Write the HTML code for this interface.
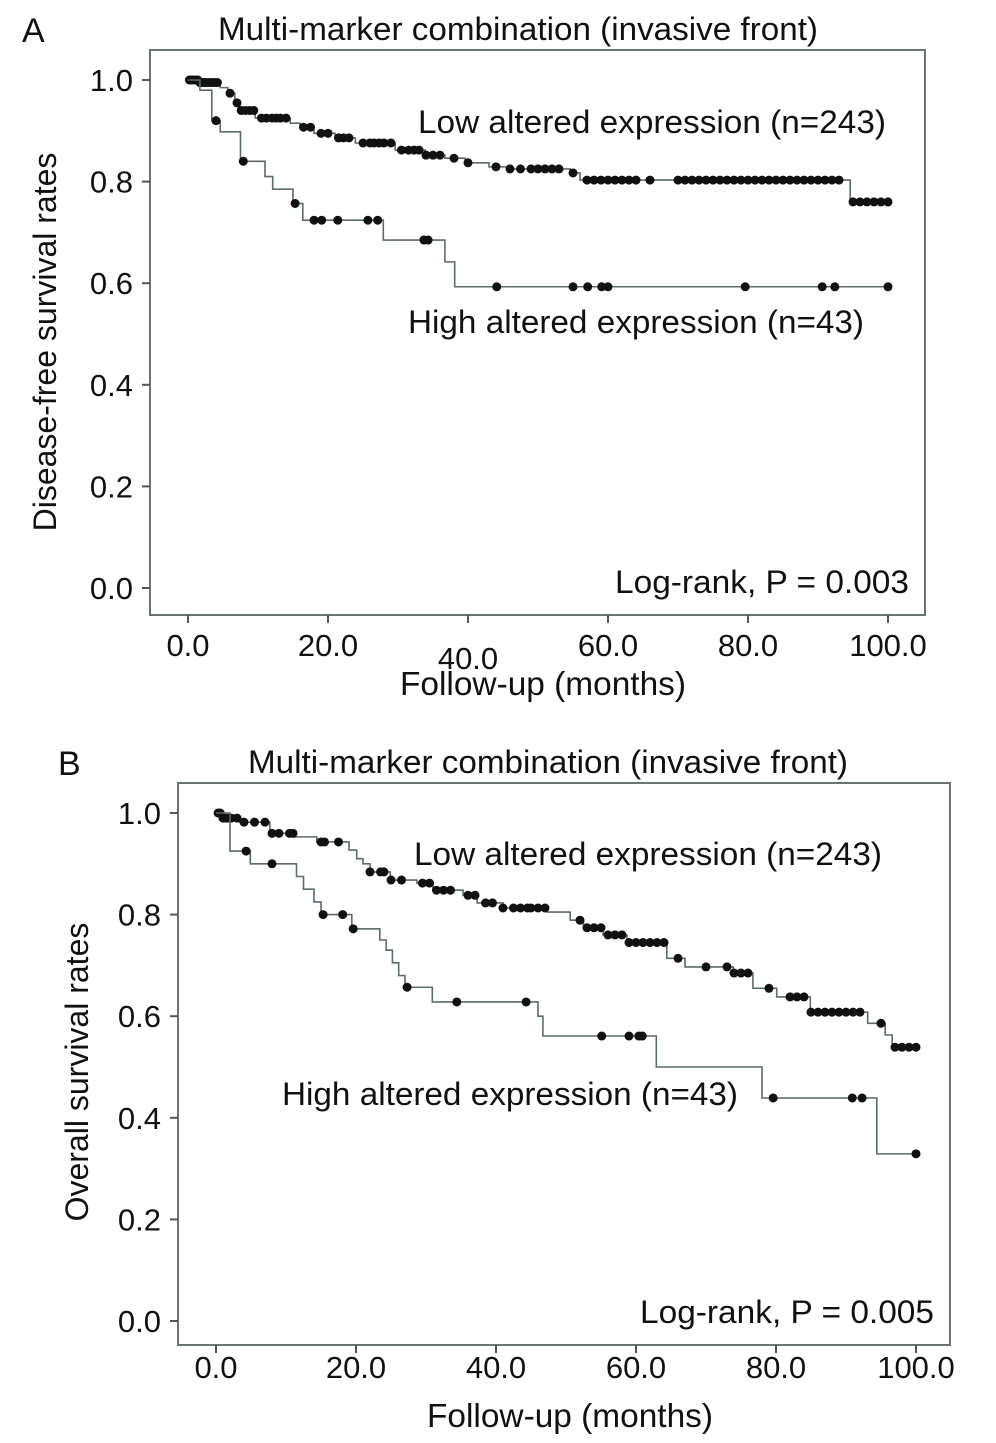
<!DOCTYPE html>
<html><head><meta charset="utf-8"><style>
body{margin:0;background:#fff;}
svg{display:block;font-family:"Liberation Sans",Arial,sans-serif;}
</style></head><body>
<svg id="chart" width="996" height="1443" viewBox="0 0 996 1443" xmlns="http://www.w3.org/2000/svg"></svg>
<script>
// Panel A - disease-free survival
const aLowSteps = [[0,1.0],[1.5,0.995],[4.6,0.985],[5.7,0.974],[6.7,0.955],[7.4,0.94],[9.6,0.925],[14.6,0.915],[16,0.907],[18,0.895],[21,0.886],[23.9,0.876],[29.6,0.862],[33.9,0.852],[36.7,0.846],[39.6,0.837],[43,0.829],[46,0.825],[54.6,0.817],[56,0.803],[94.6,0.76]];
const aLowCensor = [0.2,0.5,0.8,1.1,1.4,1.7,2,2.3,2.6,3,3.4,3.8,4.2,6,7,7.6,8.2,8.8,9.4,10.5,11.2,12,12.6,13.2,14,16.5,17.5,19,20,21.5,22.2,23,25,26,26.6,27.3,28,29,30.5,31.5,32.3,33,34,35,36,38,40,44,46,47.5,49,50,51,52,53,55,57,58,59,60,61,62,63,64,66,70,71,72,73,74,75,76,77,78,79,80,81,82,83,84,85,86,87,88,89,90,91,92,93,95,96,97,98,99,100];
const aHighSteps = [[0,1.0],[1.7,0.98],[3.4,0.92],[4.6,0.898],[7.5,0.84],[11,0.81],[12.1,0.785],[15,0.757],[16.4,0.724],[27.9,0.685],[36.7,0.642],[38.1,0.593]];
const aHighCensor = [4,7.9,15.3,18,19.1,21.4,25.7,27.1,33.7,34.3,44.1,55,57.1,59.1,60,79.6,90.6,92.4,100];
// Panel B - overall survival
const bLowSteps = [[0,1.0],[1,0.99],[3.4,0.982],[7.7,0.96],[11.3,0.953],[14.4,0.943],[19,0.927],[20.1,0.91],[21,0.9],[22,0.884],[24.9,0.868],[28.7,0.862],[31,0.848],[35.3,0.838],[37.3,0.823],[41,0.813],[47.3,0.805],[50.6,0.789],[52.5,0.774],[55.3,0.76],[58.7,0.745],[64.4,0.714],[67,0.697],[73.9,0.685],[76.7,0.655],[80.1,0.638],[84.9,0.608],[93.1,0.586],[95.6,0.563],[96.6,0.539]];
const bLowCensor = [0.3,0.6,1,1.3,1.7,2.2,3,4,5.5,7,8,9,10.5,11,15,15.5,17.5,22,23.5,24,25,26.5,29.5,30.5,31.5,32.5,33.5,36,37,38.5,39.5,41,42.5,43.5,44.5,45,46,47,52,53,54,55,56,57,58,59,60,61,62,63,64,66,70,73,74,75,76,79,82,83,84,85,86,87,88,89,90,91,92,95,97,98,99,100];
const bHighSteps = [[0,1.0],[2,0.925],[4.9,0.9],[11.5,0.875],[12.5,0.85],[14,0.825],[15,0.8],[19.4,0.772],[23.4,0.75],[24.3,0.73],[25.2,0.705],[26.1,0.68],[27,0.657],[30.9,0.628],[46,0.6],[46.7,0.561],[62.9,0.5],[78,0.439],[94.4,0.329]];
const bHighCensor = [4.3,8,15.3,18.1,19.6,27.3,34.4,44.3,55.1,59,60.4,60.9,79.6,90.9,92.3,100];
const yTicks = [0,0.2,0.4,0.6,0.8,1.0];
const xTicks = [0,20,40,60,80,100];

const NS="http://www.w3.org/2000/svg";
const svg=document.getElementById('chart');
function mk(tag,attrs,parent){const e=document.createElementNS(NS,tag);for(const k in attrs)e.setAttribute(k,attrs[k]);(parent||svg).appendChild(e);return e;}
function txt(s,attrs,parent){const e=mk('text',attrs,parent);e.textContent=s;return e;}
function survAt(steps,t){let s=1;for(const p of steps){if(p[0]<=t)s=p[1];}return s;}

function panel(cfg){
  const g=mk('g',{});
  
  
  const X=t=>cfg.x0+t*cfg.px;
  const Y=v=>cfg.y0-v*cfg.py;
  const frame=mk('rect',{x:cfg.L,y:cfg.T,width:cfg.R-cfg.L,height:cfg.B-cfg.T,fill:'none',stroke:'#6b7474','stroke-width':2},g);
  
  
  yTicks.forEach(v=>{
    const l=mk('line',{x1:cfg.L-8,x2:cfg.L,y1:Y(v),y2:Y(v),stroke:'#555','stroke-width':2},g);
    
    
    const t=txt(v.toFixed(1),{x:cfg.L-17,y:Y(v)+11,'font-size':31,'text-anchor':'end',fill:'#111'},g);
    
    
  });
  xTicks.forEach(v=>{
    const l=mk('line',{x1:X(v),x2:X(v),y1:cfg.B,y2:cfg.B+8,stroke:'#555','stroke-width':2},g);
    
    
    const t=txt(v.toFixed(1),{x:X(v),y:cfg.B+cfg.xlOff+(v===40&&cfg.shift40?13:0),'font-size':31,'text-anchor':'middle',fill:'#111'},g);
    
    
  });
  [[cfg.low,cfg.lowC,'low-altered-curve'],[cfg.high,cfg.highC,'high-altered-curve']].forEach(([steps,cens,nm])=>{
    let d=`M${X(0)},${Y(steps[0][1])}`;
    for(let i=1;i<steps.length;i++){d+=` H${X(steps[i][0])} V${Y(steps[i][1])}`;}
    d+=` H${X(100)}`;
    const p=mk('path',{d:d,fill:'none',stroke:'#5c6b6b','stroke-width':1.6},g);
    
    
    cens.forEach(t=>{
      const c=mk('circle',{cx:X(t),cy:Y(survAt(steps,t)),r:4.5,fill:'#111'},g);
      
      
    });
  });
  const ti=txt('Multi-marker combination (invasive front)',{x:cfg.titleX,y:cfg.titleY,'font-size':32,'text-anchor':'middle',fill:'#111',textLength:600,lengthAdjust:'spacingAndGlyphs'},g);
  
  
  const lt=txt(cfg.letter,{x:cfg.letterX,y:cfg.titleY+2,'font-size':34,fill:'#111'},g);
  
  
  const xa=txt('Follow-up (months)',{x:cfg.xtX,y:cfg.xtY,'font-size':33,'text-anchor':'middle',fill:'#111',textLength:286,lengthAdjust:'spacingAndGlyphs'},g);
  
  
  const ya=txt(cfg.ytitle,{x:0,y:0,'font-size':32,'text-anchor':'middle',fill:'#111',transform:`translate(${cfg.ytX},${cfg.ytY}) rotate(-90)`},g);
  
  
  const l1=txt('Low altered expression (n=243)',{x:cfg.lowLx,y:cfg.lowLy,'font-size':32,fill:'#111',textLength:468,lengthAdjust:'spacingAndGlyphs'},g);
  
  
  const l2=txt('High altered expression (n=43)',{x:cfg.highLx,y:cfg.highLy,'font-size':32,fill:'#111',textLength:456,lengthAdjust:'spacingAndGlyphs'},g);
  
  
  const pv=txt(cfg.pval,{x:cfg.R-16,y:cfg.B-22,'font-size':32,'text-anchor':'end',fill:'#111',textLength:294,lengthAdjust:'spacingAndGlyphs'},g);
  
  
}
panel({name:'panel-a',letter:'A',L:150,R:925,T:50,B:615,x0:188,px:7,y0:588,py:508,shift40:true,xlOff:41,
  low:aLowSteps,lowC:aLowCensor,high:aHighSteps,highC:aHighCensor,
  titleX:518,titleY:40,letterX:22,xtX:543,xtY:695,ytitle:'Disease-free survival rates',ytX:56,ytY:342,
  lowLx:418,lowLy:133,highLx:408,highLy:333,pval:'Log-rank, P = 0.003'});
panel({name:'panel-b',letter:'B',L:178,R:950,T:783,B:1345,x0:216,px:7,y0:1321,py:508,shift40:false,xlOff:33,
  low:bLowSteps,lowC:bLowCensor,high:bHighSteps,highC:bHighCensor,
  titleX:548,titleY:773,letterX:58,xtX:570,xtY:1427,ytitle:'Overall survival rates',ytX:88,ytY:1072,
  lowLx:414,lowLy:865,highLx:282,highLy:1105,pval:'Log-rank, P = 0.005'});
</script>
</body></html>
